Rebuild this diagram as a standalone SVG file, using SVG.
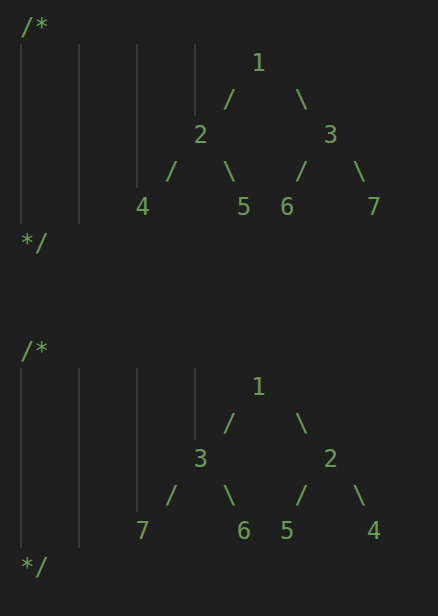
<svg xmlns="http://www.w3.org/2000/svg" width="438" height="616" viewBox="0 0 438 616">
<style>
.t{font-family:"DejaVu Sans Mono","Liberation Mono",monospace;font-size:24px;fill:#6a9955;white-space:pre}
.g{stroke:#404040;stroke-width:1.5}
</style>
<rect width="438" height="616" fill="#1f1f1f"/>
<g id="block1">
<g id="guides1">
<line class="g" x1="21" y1="44" x2="21" y2="224"/>
<line class="g" x1="79" y1="44" x2="79" y2="224"/>
<line class="g" x1="137" y1="44" x2="137" y2="188"/>
<line class="g" x1="195" y1="44" x2="195" y2="116"/>
</g>
<text class="t" xml:space="preserve" x="20" y="35">/*</text>
<text class="t" xml:space="preserve" x="20" y="71">                1</text>
<text class="t" xml:space="preserve" x="20" y="107">              /    \</text>
<text class="t" xml:space="preserve" x="20" y="143">            2        3</text>
<text class="t" xml:space="preserve" x="20" y="179">          /   \    /   \</text>
<text class="t" xml:space="preserve" x="20" y="215">        4      5  6     7</text>
<text class="t" xml:space="preserve" x="20" y="251">*/</text>
</g>
<g id="block2">
<g id="guides2">
<line class="g" x1="21" y1="368" x2="21" y2="548"/>
<line class="g" x1="79" y1="368" x2="79" y2="548"/>
<line class="g" x1="137" y1="368" x2="137" y2="512"/>
<line class="g" x1="195" y1="368" x2="195" y2="440"/>
</g>
<text class="t" xml:space="preserve" x="20" y="359">/*</text>
<text class="t" xml:space="preserve" x="20" y="395">                1</text>
<text class="t" xml:space="preserve" x="20" y="431">              /    \</text>
<text class="t" xml:space="preserve" x="20" y="467">            3        2</text>
<text class="t" xml:space="preserve" x="20" y="503">          /   \    /   \</text>
<text class="t" xml:space="preserve" x="20" y="539">        7      6  5     4</text>
<text class="t" xml:space="preserve" x="20" y="575">*/</text>
</g>
</svg>
